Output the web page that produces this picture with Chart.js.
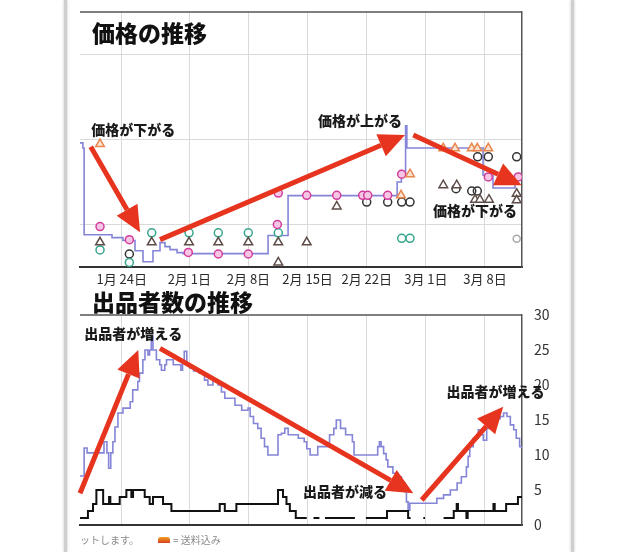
<!DOCTYPE html>
<html lang="ja">
<head>
<meta charset="UTF-8">
<script src="https://cdn.jsdelivr.net/npm/chart.js@4.4.0/dist/chart.umd.min.js"></script>
<title>価格と出品者数の推移</title>
<style>
    body { margin: 0; width: 640px; height: 552px; background: #fff; position: relative; overflow: hidden;
           font-family: "Noto Sans CJK JP", "Noto Sans", sans-serif; }
    canvas { position: absolute; left: 0; }
    #price { top: 0; }
    #sellers { top: 290px; }
    .edge { position: absolute; top: 0; height: 552px; width: 3px; background: #cfcfcf; box-shadow: 0 0 3px #c4c4c4; }
    .note { position: absolute; top: 532px; font-size: 10px; color: #8a8a8a; }
    .icon { position: absolute; left: 158px; top: 537px; width: 12px; height: 6px;
            background: linear-gradient(#f0a020, #d84020); border-radius: 3px 3px 0 0; }
</style>
</head>
<body>
<div class="edge" style="left: 64px;"></div>
<div class="edge" style="left: 571px;"></div>
<canvas id="price" width="640" height="290"></canvas>
<canvas id="sellers" width="640" height="262"></canvas>
<span class="note" style="left: 80px;">ットします。</span>
<div class="icon"></div>
<span class="note" style="left: 173px;">= 送料込み</span>

<script>
    // x = days since 1月24日
    const tickDays = [0, 8, 15, 22, 29, 36, 43];
    const tickLabels = ['1月 24日', '2月 1日', '2月 8日', '2月 15日', '2月 22日', '3月 1日', '3月 8日'];
    const priceGrid = [2000, 3000, 4000];
    const sellerTicks = [0, 5, 10, 15, 20, 25, 30];

    // price step line (value holds until next point)
    const priceDays = [-4.94, -4.6, -4.45, -1.15, 0.15, 1.57, 2.52, 3.7, 4.53, 5.12, 5.72, 6.55, 7.25,
        17.32, 19.69, 32.6, 33.1, 33.6, 33.75, 42.77, 43.95, 46.55, 47.4];
    const priceYen = [2960, 2900, 1880, 1846, 1811, 1692, 1562, 1692, 1787, 1740, 1704, 1669, 1657,
        1870, 2340, 2500, 2600, 3160, 2900, 2580, 2430, 2560, 2560];

    // offers [day, price]
    const pinkOffers = [[-2.57, 1976], [0.9, 1822], [7.88, 1672], [11.43, 1653], [14.98, 1653], [18.42, 2000],
        [18.53, 2370], [21.9, 2343], [25.45, 2343], [28.52, 2343], [29.12, 2343], [31.48, 2343], [33.14, 2592],
        [43.39, 2560], [46.94, 2560]];
    const tealOffers = [[-2.57, 1701], [0.9, 1554], [3.55, 1902], [7.97, 1902], [11.43, 1902], [14.98, 1902],
        [18.53, 1902], [33.14, 1838], [34.12, 1838]];
    const blackOffers = [[0.9, 1653], [29.0, 2264], [31.48, 2264], [33.14, 2264], [34.12, 2264], [42.13, 2796],
        [43.39, 2796], [46.75, 2796], [39.57, 2422], [41.43, 2394], [42.09, 2394]];
    const grayOffers = [[46.75, 1831]];
    const brownOffers = [[-2.57, 1791], [3.55, 1791], [7.97, 1791], [11.43, 1791], [14.98, 1791], [18.53, 1791],
        [18.53, 1554], [21.9, 1791], [25.45, 2213], [38.06, 2462], [39.65, 2462], [41.82, 2292], [42.4, 2292],
        [43.47, 2292], [46.75, 2363], [46.75, 2284]];
    const orangeOffers = [[-2.57, 2947], [33.06, 2343], [34.12, 2592], [38.06, 2896], [39.45, 2896],
        [41.43, 2896], [42.09, 2896], [43.39, 2896]];

    // seller counts
    const newDays = [-4.94, -4.45, -4.1, -2.1, -1.75, -1.55, -1.3, -1.05, -0.8, -0.45, 0.15, 1.0, 1.3, 1.9, 2.1,
        2.5, 2.75, 3.1, 3.3, 3.5, 3.7, 4.1, 4.5, 4.7, 5.1, 5.3, 6.1, 7.0, 7.2, 7.4, 7.7, 8.1, 8.5, 9.2, 9.8,
        10.2, 10.8, 11.4, 11.8, 12.2, 13.4, 14.2, 14.95, 15.2, 15.6, 16.1, 16.5, 16.9, 17.3, 18.5, 18.9, 19.3,
        19.7, 20.9, 21.6, 21.9, 22.3, 23.2, 24.6, 25.1, 25.4, 25.9, 26.5, 27.3, 27.5, 30.3, 30.5, 30.7, 31.0,
        31.3, 31.5, 32.1, 32.7, 33.1, 33.5, 33.7, 33.9, 34.1, 37.3, 38.1, 38.9, 39.7, 40.2, 40.8, 41.0, 41.2,
        41.6, 42.2, 42.6, 42.8, 43.2, 43.8, 44.4, 44.8, 45.2, 45.6, 46.0, 46.4, 46.7, 47.1, 47.4];
    const newCount = [7, 11, 10.3, 11.9, 10.3, 8.1, 10.3, 11.9, 14, 16, 16.7, 17.6, 19.3, 20.5, 21.7,
        23.6, 25, 24.3, 25, 27, 25, 23.6, 22.9, 22.1, 22.9, 23.6, 22.9, 22.1, 23.3, 24.8, 22.9, 22.4, 22, 21.7, 20.7,
        20, 20.7, 20, 19, 18.1, 17.1, 16.4, 16.7, 15.5, 14.5, 13.8, 12.4, 11.2, 10, 12.9, 13.1, 13.8,
        12.9, 12.4, 11.9, 10.9, 10, 11.2, 12.9, 13.8, 15, 13.8, 12.9, 11.9, 10, 11.2, 11.9, 11.2, 10.2,
        9.3, 8.3, 7.4, 6.9, 6, 4.8, 3.3, 2.1, 3.1, 3.8, 4.3, 5, 6, 6.9, 8.3, 9.8, 11.2,
        12.4, 13.6, 12.9, 12.1, 13.8, 14.8, 15.2, 15.5, 16, 15.5, 14.3, 13.6, 12.4, 11.2, 11];

    const usedDays = [-4.94, -4.0, -3.4, -3.0, -2.2, -1.5, -1.35, -0.24, 0.55, 1.14, 1.34, 2.72, 3.31, 3.7, 4.89,
        5.88, 11.6, 12.2, 13.57, 18.5, 19.09, 19.5, 19.9, 20.6, 21.9, 22.3, 22.7, 23.4, 23.7, 24.06, 27.6, 28.2,
        28.9, 31.4, 33.9, 34.2, 34.3, 35.7, 35.9, 36.0, 38.1, 39.3, 39.65, 39.8, 40.8, 40.95, 44.0, 44.15, 45.5,
        46.9, 47.4];
    const usedCount = [1, 2, 3, 5, 3, 4, 3, 4, 5, 4, 5, 4, 3, 4, 3,
        2, 3, 2, 3, 5, 4, 3, 2, 1, 1, null, 1, 1, null, 1, 1, null,
        1, 2, 1, 1, null, 1, 1, null, 1, 2, 3, 2, 1, 2, 3, 2, 3,
        4, 4];

    // annotations in data space: [fromDay, fromVal, toDay, toVal]
    const priceArrows = [[-3.67, 2915, 2.17, 1909], [4.53, 1822, 33.53, 3053], [34.51, 3053, 47.34, 2462]];
    const priceNotes = [['価格が下がる', 1.37, 3112], ['価格が上がる', 28.2, 3222], ['価格が下がる', 41.82, 2166]];
    const sellerArrows = [[-4.94, 4.53, 1.96, 25], [4.53, 25.24, 34.51, 4.53], [35.51, 3.57, 45.16, 16.9]];
    const sellerNotes = [['出品者が増える', 1.37, 27.4], ['出品者が減る', 26.43, 4.76], ['出品者が増える', 44.24, 19.04]];

    Chart.defaults.font.family = '"Noto Sans CJK JP", "Noto Sans", sans-serif';
    Chart.defaults.color = '#333';

    const xy = (xs, ys) => xs.map((x, i) => ({x: x, y: ys[i]}));
    const pts = arr => arr.map(p => ({x: p[0], y: p[1]}));

    function marks(arr, style, stroke, fill, r) {
        return {
            data: pts(arr), showLine: false, pointStyle: style, pointRadius: r,
            pointBorderColor: stroke, pointBackgroundColor: fill, pointBorderWidth: 1.5, order: 1
        };
    }

    function drawArrow(ctx, x1, y1, x2, y2) {
        const a = Math.atan2(y2 - y1, x2 - x1);
        const len = 26, half = 12;
        const bx = x2 - len * Math.cos(a), by = y2 - len * Math.sin(a);
        ctx.strokeStyle = '#e6341f';
        ctx.fillStyle = '#e6341f';
        ctx.lineWidth = 5;
        ctx.beginPath();
        ctx.moveTo(x1, y1);
        ctx.lineTo(bx, by);
        ctx.stroke();
        ctx.beginPath();
        ctx.moveTo(x2, y2);
        ctx.lineTo(bx + half * Math.sin(a), by - half * Math.cos(a));
        ctx.lineTo(bx - half * Math.sin(a), by + half * Math.cos(a));
        ctx.closePath();
        ctx.fill();
    }

    function overlay(title, titleY, arrows, notes) {
        return {
            id: 'overlay',
            afterDraw(chart) {
                const {ctx, chartArea, scales} = chart;
                ctx.save();
                // frame top line
                ctx.strokeStyle = '#555';
                ctx.lineWidth = 1.5;
                ctx.beginPath();
                ctx.moveTo(chartArea.left, chartArea.top);
                ctx.lineTo(chartArea.right, chartArea.top);
                ctx.stroke();
                // title
                ctx.fillStyle = '#111';
                ctx.font = '900 23px "Noto Sans CJK JP"';
                ctx.textBaseline = 'middle';
                ctx.textAlign = 'left';
                ctx.fillText(title, 92, titleY);
                for (const a of arrows) {
                    drawArrow(ctx, scales.x.getPixelForValue(a[0]), scales.y.getPixelForValue(a[1]),
                        scales.x.getPixelForValue(a[2]), scales.y.getPixelForValue(a[3]));
                }
                ctx.fillStyle = '#1a1a1a';
                ctx.font = '900 14px "Noto Sans CJK JP"';
                ctx.textAlign = 'center';
                for (const n of notes) {
                    ctx.fillText(n[0], scales.x.getPixelForValue(n[1]), scales.y.getPixelForValue(n[2]));
                }
                ctx.restore();
            }
        };
    }

    const xBase = {
        type: 'linear', min: -4.94, max: 47.38,
        afterBuildTicks: s => { s.ticks = tickDays.map(v => ({value: v})); },
        grid: {color: '#dadada', lineWidth: 1, drawTicks: false},
        border: {display: true, color: '#333', width: 2}
    };

    new Chart(document.getElementById('price'), {
        type: 'line',
        data: {
            datasets: [
                marks(orangeOffers, 'triangle', '#e8874f', '#fbe3d3', 5),
                marks(brownOffers, 'triangle', '#5e4d48', '#ffffff', 5),
                marks(pinkOffers, 'circle', '#d23c9c', '#f6c6e4', 4),
                marks(tealOffers, 'circle', '#35a58c', '#ffffff', 4),
                marks(blackOffers, 'circle', '#333333', 'rgba(255,255,255,0)', 4),
                marks(grayOffers, 'circle', '#aaaaaa', '#ffffff', 3.5),
                {
                    data: xy(priceDays, priceYen), stepped: true, borderColor: '#8585d8', borderWidth: 1.6,
                    pointRadius: 0, fill: false, order: 2
                }
            ]
        },
        options: {
            responsive: false,
            animation: false,
            events: [],
            layout: {padding: {left: 80, right: 118, top: 12, bottom: 0}},
            plugins: {legend: {display: false}, tooltip: {enabled: false}},
            scales: {
                x: Object.assign({}, xBase, {
                    afterFit: s => { s.height = 23; },
                    ticks: {padding: 4, font: {size: 13}, color: '#2a2a2a', callback: v => tickLabels[tickDays.indexOf(v)]}
                }),
                y: {
                    position: 'right', min: 1500, max: 4500,
                    afterBuildTicks: s => { s.ticks = priceGrid.map(v => ({value: v})); },
                    afterFit: s => { s.width = 0; },
                    ticks: {display: false},
                    grid: {color: '#dadada', drawTicks: false},
                    border: {display: true, color: '#555', width: 1.5}
                }
            }
        },
        plugins: [overlay('価格の推移', 33, priceArrows, priceNotes)]
    });

    new Chart(document.getElementById('sellers'), {
        type: 'line',
        data: {
            datasets: [
                {
                    data: xy(usedDays, usedCount), stepped: true, borderColor: '#111', borderWidth: 2,
                    pointRadius: 0, fill: false, spanGaps: false, order: 1
                },
                {
                    data: xy(newDays, newCount), stepped: true, borderColor: '#8585d8', borderWidth: 1.6,
                    pointRadius: 0, fill: false, order: 2
                }
            ]
        },
        options: {
            responsive: false,
            animation: false,
            events: [],
            layout: {padding: {left: 80, right: 78, top: 25, bottom: 27}},
            plugins: {legend: {display: false}, tooltip: {enabled: false}},
            scales: {
                x: Object.assign({}, xBase, {
                    afterFit: s => { s.height = 0; },
                    ticks: {display: false}
                }),
                y: {
                    position: 'right', min: 0, max: 30,
                    afterBuildTicks: s => { s.ticks = sellerTicks.map(v => ({value: v})); },
                    afterFit: s => { s.width = 40; },
                    ticks: {padding: 12, font: {size: 14}, color: '#333'},
                    grid: {display: false, drawTicks: false},
                    border: {display: true, color: '#555', width: 1.5}
                }
            }
        },
        plugins: [overlay('出品者数の推移', 12, sellerArrows, sellerNotes)]
    });
</script>
</body>
</html>
